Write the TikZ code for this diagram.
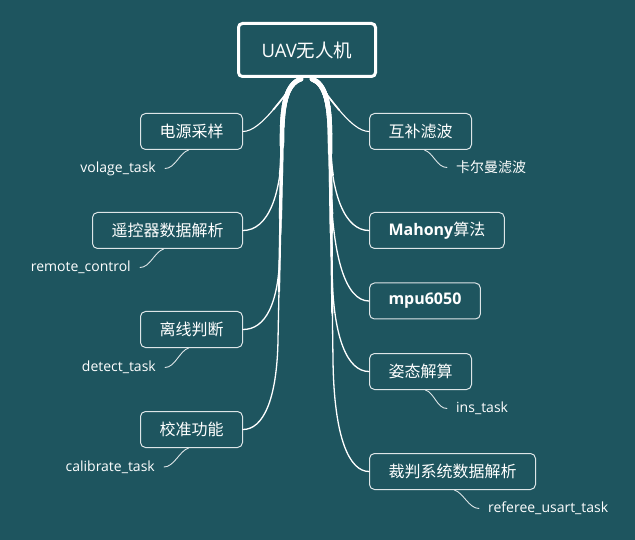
\documentclass[tikz,border=0pt]{standalone}
\usepackage{fontspec}
\setmainfont{Open Sans}
\newfontfamily\cjk{Noto Sans CJK SC}
\usetikzlibrary{calc}
\definecolor{bg}{RGB}{30,85,95}
\tikzset{
  conn/.style={draw=white,line cap=round,line join=round},
  subconn/.style={draw=white!85!bg,line width=0.9pt,line cap=round},
  rootbox/.style={draw=white,fill=bg,line width=3pt,rounded corners=4pt,
    minimum width=137pt,minimum height=53pt,text=white,
    font=\fontsize{18.5}{22}\selectfont},
  childbox/.style={draw=white!85!bg,fill=bg,line width=1pt,rounded corners=5pt,
    minimum height=36pt,inner xsep=19pt,inner ysep=2pt,text=white,
    font=\fontsize{16}{19}\selectfont},
  sublabel/.style={text=white,inner xsep=9pt,inner ysep=1pt,
    font=\fontsize{14}{16}\selectfont},
}
\newcommand\taperbranch[2]{%
  \pgfmathsetlengthmacro\tbA{0.6*#1}%
  \pgfmathsetlengthmacro\tbB{0.4*#1}%
  \pgfmathsetlengthmacro\tbC{0.2*#1}%
  \draw[conn,line width=1.3pt] #2;
  \draw[conn,line width=2.2pt,dash pattern=on \tbA off 5000pt] #2;
  \draw[conn,line width=3.3pt,dash pattern=on \tbB off 5000pt] #2;
  \draw[conn,line width=4.6pt,dash pattern=on \tbC off 5000pt] #2;
}
\newcommand\shortbranch[2]{%
  \pgfmathsetlengthmacro\tbA{0.5*#1}%
  \pgfmathsetlengthmacro\tbB{0.25*#1}%
  \draw[conn,line width=1.1pt] #2;
  \draw[conn,line width=1.7pt,dash pattern=on \tbA off 5000pt] #2;
  \draw[conn,line width=2.4pt,dash pattern=on \tbB off 5000pt] #2;
}
\begin{document}
\begin{tikzpicture}[x=1pt,y=-1pt]
\useasboundingbox (0,0) rectangle (635,540);
\fill[bg] (0,0) rectangle (635,540);

% root
\node[rootbox] (root) at (307,50) {UAV{\cjk 无人机}};

% left children
\node[childbox,anchor=east] (a1) at (243,131.5) {\cjk 电源采样};
\node[childbox,anchor=east] (a2) at (243,230.5) {\cjk 遥控器数据解析};
\node[childbox,anchor=east] (a3) at (243,329.5) {\cjk 离线判断};
\node[childbox,anchor=east] (a4) at (243,429.5) {\cjk 校准功能};

% right children
\node[childbox,anchor=west] (b1) at (369,131.5) {\cjk 互补滤波};
\node[childbox,anchor=west] (b2) at (369,230.5) {\bfseries Mahony{\cjk\mdseries 算法}};
\node[childbox,anchor=west] (b3) at (369,301) {\bfseries mpu6050};
\node[childbox,anchor=west] (b4) at (369,371.5) {\cjk 姿态解算};
\node[childbox,anchor=west] (b5) at (369,471.5) {\cjk 裁判系统数据解析};

% sub labels
\node[sublabel,anchor=east] (la1) at (165,168.5) {volage\_task};
\node[sublabel,anchor=east] (la2) at (140,267.5) {remote\_control};
\node[sublabel,anchor=east] (la3) at (165,367.5) {detect\_task};
\node[sublabel,anchor=east] (la4) at (164,467) {calibrate\_task};
\node[sublabel,anchor=west] (lb1) at (447,167.5) {\cjk 卡尔曼滤波};
\node[sublabel,anchor=west] (lb4) at (447,408.5) {ins\_task};
\node[sublabel,anchor=west] (lb5) at (479,508.5) {referee\_usart\_task};

% start coordinates on the root
\coordinate (sL) at ($(root.south)+(-6,1)$);
\coordinate (sR) at ($(root.south)+(5,1)$);
\coordinate (sLs) at ($(root.south)+(-8,1)$);
\coordinate (sRs) at ($(root.south)+(7,1)$);

% main branches, left
\shortbranch{80}{(sLs) .. controls (285,92) and (262,131.5) .. (a1.east)}
\taperbranch{170}{(sL) .. controls (286,84) and (282,105) .. (282,140)
   .. controls (282,195) and (268,230.5) .. (a2.east)}
\taperbranch{270}{(sL) .. controls (286,84) and (282,105) .. (282,140)
   -- (280,250) .. controls (279,305) and (265,329.5) .. (a3.east)}
\taperbranch{365}{(sL) .. controls (286,84) and (282,105) .. (282,140)
   -- (278,340) .. controls (277,400) and (263,429.5) .. (a4.east)}

% main branches, right
\shortbranch{80}{(sRs) .. controls (327,92) and (350,131.5) .. (b1.west)}
\taperbranch{170}{(sR) .. controls (326,84) and (330,105) .. (330,140)
   .. controls (331,195) and (345,230.5) .. (b2.west)}
\taperbranch{235}{(sR) .. controls (326,84) and (330,105) .. (330,140)
   -- (331,190) .. controls (333,255) and (345,301) .. (b3.west)}
\taperbranch{305}{(sR) .. controls (326,84) and (330,105) .. (330,140)
   -- (332,270) .. controls (333,340) and (348,371.5) .. (b4.west)}
\taperbranch{400}{(sR) .. controls (326,84) and (330,105) .. (330,140)
   -- (333,360) .. controls (334,440) and (350,471.5) .. (b5.west)}

% sub connectors
\draw[subconn] ($(a1.south)+(-3,0)$) .. controls +(-9,3) and +(10,0) .. (la1.east);
\draw[subconn] ($(a2.south)+(-4,0)$) .. controls +(-9,3) and +(10,0) .. (la2.east);
\draw[subconn] ($(a3.south)+(-3,0)$) .. controls +(-9,3) and +(10,0) .. (la3.east);
\draw[subconn] ($(a4.south)+(-3,0)$) .. controls +(-9,3) and +(10,0) .. (la4.east);
\draw[subconn] ($(b1.south)+(4,0)$) .. controls +(9,3) and +(-10,0) .. (lb1.west);
\draw[subconn] ($(b4.south)+(5,0)$) .. controls +(9,3) and +(-10,0) .. (lb4.west);
\draw[subconn] ($(b5.south)+(2,0)$) .. controls +(9,3) and +(-10,0) .. (lb5.west);
\end{tikzpicture}
\end{document}
